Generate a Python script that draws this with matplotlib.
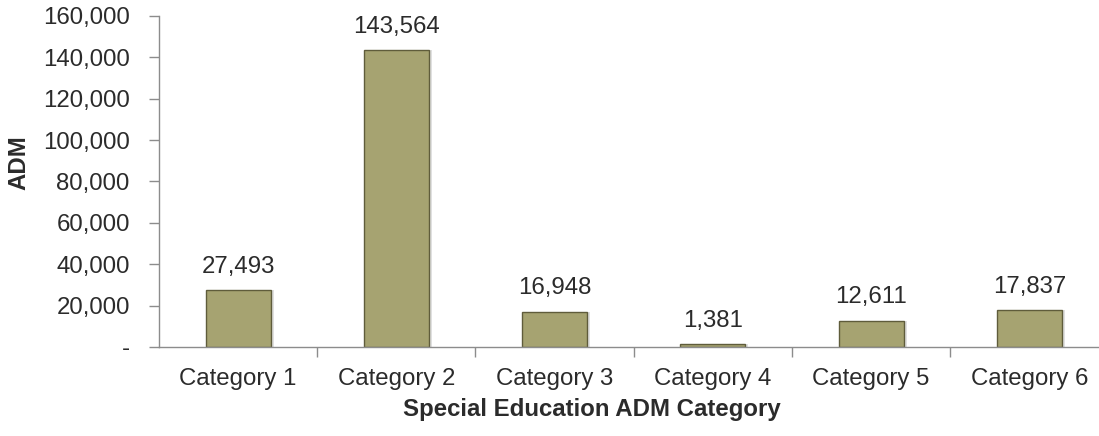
import matplotlib
matplotlib.use('Agg')
import matplotlib.pyplot as plt
import numpy as np
from matplotlib.ticker import FuncFormatter

# Chart data
categories = ['Category 1', 'Category 2', 'Category 3', 'Category 4', 'Category 5', 'Category 6']
adm_values = [27493, 143564, 16948, 1381, 12611, 17837]
y_ticks = [0, 20000, 40000, 60000, 80000, 100000, 120000, 140000, 160000]

plt.rcParams['font.family'] = ['Liberation Sans', 'DejaVu Sans']
text_color = '#2b2b2b'
axis_color = '#8c8c8c'
fs = 17.3

fig = plt.figure(figsize=(10.99, 4.36), dpi=100)
ax = fig.add_axes([159 / 1099, 1 - 347 / 436, 1 - 159 / 1099, (347 - 16) / 436])

x = np.arange(len(categories))

# Soft shadow under bars
ax.bar(x + 0.02, adm_values, width=0.41, color='#000000', alpha=0.12, zorder=1)
bars = ax.bar(x, adm_values, width=0.41, color='#A6A371', edgecolor='#5f5c3b',
              linewidth=1.0, zorder=2)

# Value labels above bars
for xi, v in zip(x, adm_values):
    ax.annotate(f'{v:,}', (xi, v), xytext=(0, 9), textcoords='offset points',
                ha='center', va='bottom', fontsize=fs, color=text_color)

ax.set_xlim(-0.5, 5.44)
ax.set_ylim(0, 160000)
ax.set_yticks(y_ticks)
ax.yaxis.set_major_formatter(FuncFormatter(lambda v, p: '-' if v == 0 else f'{int(v):,}'))

ax.set_xticks(x)
ax.set_xticklabels(categories)
ax.set_xticks(np.arange(0.5, 5.5, 1), minor=True)
ax.tick_params(axis='x', which='major', length=0, pad=15, labelsize=fs, colors=text_color)
ax.tick_params(axis='x', which='minor', length=7, color=axis_color, width=1)
ax.tick_params(axis='y', length=7, color=axis_color, width=1, pad=14, labelsize=fs,
               labelcolor=text_color)

for side in ['top', 'right']:
    ax.spines[side].set_visible(False)
for side in ['left', 'bottom']:
    ax.spines[side].set_color(axis_color)
    ax.spines[side].set_linewidth(1)

fig.text(19 / 1099, 1 - 163 / 436, 'ADM', rotation=90, ha='center', va='center',
         fontsize=fs, fontweight='bold', color=text_color)
fig.text(592 / 1099, 1 - 409 / 436, 'Special Education ADM Category', ha='center', va='center',
         fontsize=fs, fontweight='bold', color=text_color)

fig.savefig('out.png', dpi=100)
